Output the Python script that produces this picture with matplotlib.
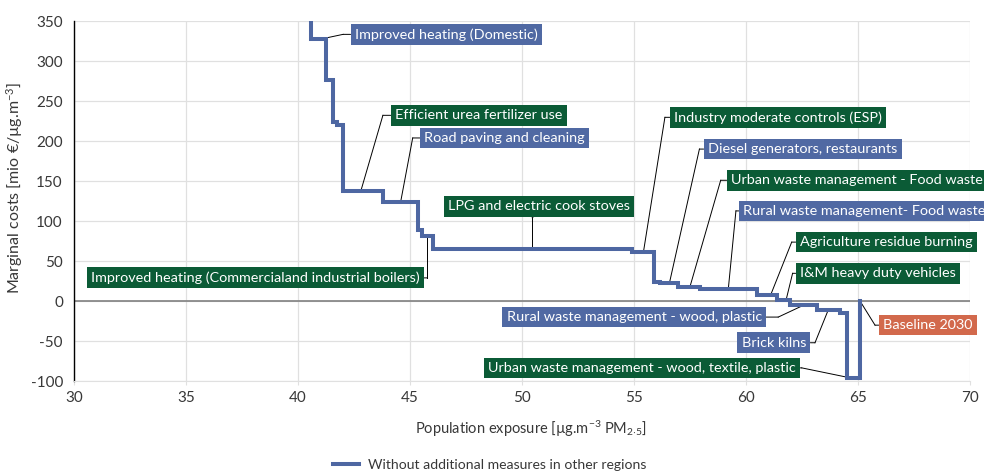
import numpy as np
import matplotlib
matplotlib.use('Agg')
import matplotlib.pyplot as plt
from matplotlib.lines import Line2D

plt.rcParams['font.family'] = ['Lato', 'DejaVu Sans']
plt.rcParams['mathtext.fontset'] = 'custom'
plt.rcParams['mathtext.rm'] = 'Lato'
plt.rcParams['mathtext.it'] = 'Lato'
plt.rcParams['axes.unicode_minus'] = False

# ---- data ----
exposure_bounds = [40.57, 41.25, 41.55, 41.75, 42.0, 43.78, 45.37, 45.52, 46.01, 54.92,
                   55.9, 56.16, 56.98, 57.95, 60.48, 61.37, 61.96, 63.15, 64.2, 64.49, 65.09]
marginal_costs = [327, 276, 224, 220, 138, 123.5, 88.5, 81, 65.5, 61,
                  24.3, 22.3, 18, 15, 7.5, 1.3, -5, -11.3, -14.7, -96]
start_cost = 420
baseline_cost = 0

BLUE = '#5069a3'
GREEN = '#0b5b36'
ORANGE = '#d2694c'

label_texts = ['Improved heating (Domestic)', 'Efficient urea fertilizer use', 'Road paving and cleaning',
               'LPG and electric cook stoves', 'Improved heating (Commercialand industrial boilers)',
               'Industry moderate controls (ESP)', 'Diesel generators, restaurants',
               'Urban waste management - Food waste', 'Rural waste management- Food waste',
               'Agriculture residue burning', 'I&M heavy duty vehicles', 'Baseline 2030',
               'Rural waste management - wood, plastic', 'Brick kilns',
               'Urban waste management - wood, textile, plastic']
label_colors = [BLUE, GREEN, BLUE, GREEN, GREEN, GREEN, BLUE, GREEN, BLUE, GREEN, GREEN, ORANGE,
                BLUE, BLUE, GREEN]
label_pos = [(42.54, 333.3), (44.33, 232.1), (45.63, 203.8), (46.70, 118.2), (45.43, 28.9),
             (56.79, 229.6), (58.30, 189.9), (59.33, 150.9), (59.87, 112.6), (62.41, 73.6),
             (62.41, 34.6), (66.12, -30.2), (60.71, -20.1), (62.68, -52.2), (62.23, -83.6)]
label_side = ['l', 'l', 'l', 'b', 'r', 'l', 'l', 'l', 'l', 'l', 'l', 'l', 'r', 'r', 'r']
point_pos = [(40.95, 327), (42.81, 138), (44.58, 123.5), (50.45, 65.5), (45.76, 81),
             (55.42, 61), (56.58, 22.3), (57.5, 18), (59.21, 15), (61.10, 7.5),
             (61.79, 1.3), (65.09, 0), (62.59, -5), (63.67, -11.3), (64.64, -96)]
elbow_pos = [(42.01, 333.3), (43.79, 232.1), (45.12, 203.8), (50.45, 104), (45.76, 28.9),
             (56.38, 229.6), (57.92, 189.9), (58.87, 150.9), (59.55, 112.6), (62.04, 73.6),
             (62.08, 34.6), (65.76, -30.2), (61.44, -20.1), (63.08, -52.2), (62.49, -83.6)]

x_ticks = [30, 35, 40, 45, 50, 55, 60, 65, 70]
y_ticks = [-100, -50, 0, 50, 100, 150, 200, 250, 300, 350]

# ---- figure ----
fig = plt.figure(figsize=(9.84, 4.73), dpi=100)
ax = fig.add_axes([74/984, 1-381/473, (970-74)/984, (381-21)/473])

xs = [exposure_bounds[0]]
ys = [start_cost]
for i, c in enumerate(marginal_costs):
    xs += [exposure_bounds[i], exposure_bounds[i+1]]
    ys += [c, c]
xs.append(exposure_bounds[-1])
ys.append(baseline_cost)

line_color = '#4e67a2'
ax.plot(xs, ys, color=line_color, lw=2.9, solid_joinstyle='miter', zorder=4,
        label='Without additional measures in other regions')

ax.set_xlim(30, 70)
ax.set_ylim(-100, 350)
ax.set_xticks(x_ticks)
ax.set_yticks(y_ticks)
ax.grid(True, color='#e0e0e0', lw=0.9, zorder=0)
ax.set_axisbelow(True)
ax.axhline(0, color='#808080', lw=1.2, zorder=2)
for s in ['top', 'right']:
    ax.spines[s].set_visible(False)
ax.spines['left'].set_color('black')
ax.spines['left'].set_linewidth(1.0)
ax.spines['bottom'].set_color('#e0e0e0')
ax.tick_params(axis='y', length=0, pad=8, labelsize=11, labelcolor='#383838')
ax.tick_params(axis='x', length=3, color='#e0e0e0', pad=4, labelsize=11, labelcolor='#383838')

ax.set_ylabel(r'Marginal costs [mio €/µg.m$^{-3}$]', fontsize=11.5, color='#383838')
ax.yaxis.set_label_coords(-49/896, (381-188)/360)
ax.set_xlabel(r'Population exposure [µg.m$^{-3}$ PM$_{2{\cdot}5}$]', fontsize=10.5, color='#383838')
ax.xaxis.set_label_coords((531-74)/896, -(419-381)/360)

for txt, col, (tx, ty), side, (px, py), (ex, ey) in zip(label_texts, label_colors, label_pos,
                                                        label_side, point_pos, elbow_pos):
    ax.plot([px, ex], [py, ey], color='black', lw=0.7, zorder=3, clip_on=False)
    if side == 'l':
        ha, relpos = 'left', (0, 0.5)
    elif side == 'r':
        ha, relpos = 'right', (1, 0.5)
    else:
        ha, relpos = 'left', (0.5, 0)
    ax.annotate(txt, xy=(ex, ey), xytext=(tx, ty), ha=ha, va='center', fontsize=10.4,
                color='white', zorder=5, annotation_clip=False,
                bbox=dict(boxstyle='square,pad=0.3', fc=col, ec='none'),
                arrowprops=dict(arrowstyle='-', color='black', lw=0.7, relpos=relpos,
                                shrinkA=0, shrinkB=0))

handles = [Line2D([0], [0], color=line_color, lw=2.9)]
fig.legend(handles, ['Without additional measures in other regions'], loc='center',
           bbox_to_anchor=(489.5/984, 1-465/473), frameon=False, fontsize=10.1,
           handlelength=1.85, handletextpad=0.65, labelcolor='#383838')

fig.savefig('out.png', dpi=100)
